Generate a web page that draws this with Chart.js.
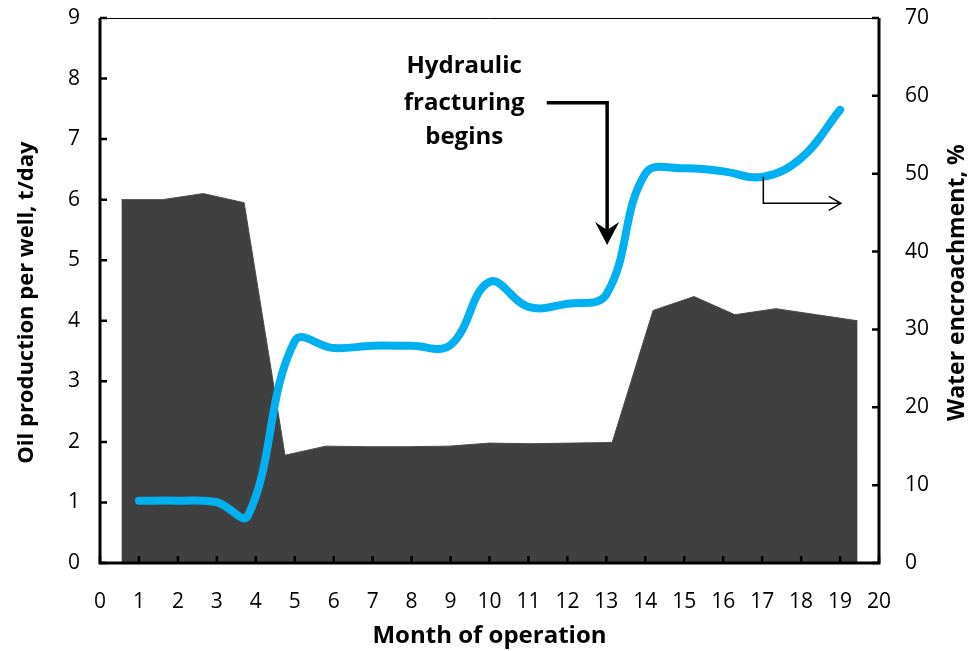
<!DOCTYPE html>
<html>
<head>
<meta charset="utf-8">
<script src="https://cdn.jsdelivr.net/npm/chart.js@4/dist/chart.umd.min.js"></script>
<style>
    html, body { margin: 0; padding: 0; background: #fff; }
</style>
</head>
<body>
<canvas id="chart" width="971" height="651"></canvas>
<script>
// oil production per well, t/day (dark area, left axis)
var oilMonths = [0.55, 1.6, 2.65, 3.7, 4.75, 5.8, 6.85, 7.9, 8.95, 10.0, 11.05, 12.1, 13.15, 14.2, 15.25, 16.3, 17.35, 18.4, 19.45];
var oilRate = [6.0, 6.0, 6.1, 5.95, 1.78, 1.93, 1.92, 1.92, 1.93, 1.98, 1.97, 1.98, 1.99, 4.17, 4.4, 4.1, 4.2, 4.1, 4.0];

// water encroachment, % (blue line, right axis)
var waterMonths = [1, 2, 3, 3.8, 5, 6, 7, 8, 9, 10, 11, 12, 13, 14, 15, 16, 17, 18, 19];
var waterCut = [8.0, 8.0, 7.8, 6.1, 28.5, 27.6, 27.9, 27.9, 28.0, 36.1, 32.9, 33.3, 34.5, 50.0, 50.7, 50.3, 49.6, 52.0, 58.2];

var monthTicks = [0, 20, 1];   // min, max, step
var oilTicks = [0, 9, 1];
var waterTicks = [0, 70, 10];

var FONT = "'Open Sans', sans-serif";

function toPoints(xs, ys) {
    return xs.map(function (x, i) { return { x: x, y: ys[i] }; });
}

function vText(c, text, x, y) {
    c.save();
    c.translate(x, y);
    c.rotate(-Math.PI / 2);
    c.fillText(text, 0, 0);
    c.restore();
}

// axis lines with inward tick marks, side titles, and the callout arrows
var frame = {
    id: 'frame',
    afterDatasetsDraw: function (chart) {
        var c = chart.ctx, a = chart.chartArea, s = chart.scales;
        c.save();
        c.strokeStyle = '#000';
        c.fillStyle = '#000';
        c.lineCap = 'butt';

        // thin top border
        c.lineWidth = 1;
        c.beginPath(); c.moveTo(a.left, a.top + 0.5); c.lineTo(a.right, a.top + 0.5); c.stroke();

        c.lineWidth = 3;
        c.beginPath();
        c.moveTo(a.left, a.top); c.lineTo(a.left, a.bottom);
        c.lineTo(a.right, a.bottom); c.lineTo(a.right, a.top);
        c.stroke();

        c.lineWidth = 2.5;
        c.beginPath();
        s.y.ticks.forEach(function (t) {
            var p = s.y.getPixelForValue(t.value);
            c.moveTo(a.left, p); c.lineTo(a.left + 7, p);
        });
        s.y1.ticks.forEach(function (t) {
            var p = s.y1.getPixelForValue(t.value);
            c.moveTo(a.right, p); c.lineTo(a.right - 7, p);
        });
        s.x.ticks.forEach(function (t) {
            var p = s.x.getPixelForValue(t.value);
            c.moveTo(p, a.bottom); c.lineTo(p, a.bottom - 7);
        });
        c.stroke();

        c.textAlign = 'center';
        c.textBaseline = 'middle';

        // axis titles, both reading bottom to top
        c.font = "bold 22px " + FONT;
        vText(c, 'Oil production per well, t/day', 27, s.y.getPixelForValue(4.3));
        c.font = "bold 23px " + FONT;
        vText(c, 'Water encroachment, %', 957, s.y1.getPixelForValue(36));

        // "Hydraulic fracturing begins"
        c.font = "bold 24px " + FONT;
        var tx = s.x.getPixelForValue(9.35);
        c.fillText('Hydraulic', tx, s.y.getPixelForValue(8.2));
        c.fillText('fracturing', tx, s.y.getPixelForValue(7.59));
        c.fillText('begins', tx, s.y.getPixelForValue(7.03));

        // elbow arrow pointing down at the start of fracturing
        var x0 = s.x.getPixelForValue(11.47), x1 = s.x.getPixelForValue(13.02);
        var yTop = s.y.getPixelForValue(7.6), yTip = s.y.getPixelForValue(5.25);
        c.lineWidth = 3.5;
        c.beginPath();
        c.moveTo(x0, yTop); c.lineTo(x1, yTop); c.lineTo(x1, yTip - 12);
        c.stroke();
        c.beginPath();
        c.moveTo(x1, yTip);
        c.lineTo(x1 - 12, yTip - 23);
        c.lineTo(x1, yTip - 15);
        c.lineTo(x1 + 12, yTip - 23);
        c.closePath();
        c.fill();

        // small arrow: the line belongs to the right axis
        var bx = s.x.getPixelForValue(17.03), ex = s.x.getPixelForValue(19.02);
        var by0 = s.y1.getPixelForValue(49.6), by1 = s.y1.getPixelForValue(46.2);
        c.lineWidth = 1.5;
        c.beginPath();
        c.moveTo(bx, by0); c.lineTo(bx, by1); c.lineTo(ex, by1);
        c.moveTo(ex - 12, by1 - 7); c.lineTo(ex, by1); c.lineTo(ex - 12, by1 + 7);
        c.stroke();

        c.restore();
    }
};

var tickFont = { family: FONT, size: 21 };

var ctx = document.getElementById('chart').getContext('2d');

new Chart(ctx, {
    type: 'line',
    data: {
        datasets: [{
            label: 'Water encroachment, %',
            data: toPoints(waterMonths, waterCut),
            yAxisID: 'y1',
            borderColor: '#00b0f0',
            borderWidth: 8,
            borderCapStyle: 'round',
            tension: 0.4,
            pointRadius: 0,
            fill: false,
            order: 0
        },
        {
            label: 'Oil production per well, t/day',
            data: toPoints(oilMonths, oilRate),
            yAxisID: 'y',
            borderColor: '#4a4a4a',
            borderWidth: 1,
            backgroundColor: '#404040',
            tension: 0,
            pointRadius: 0,
            fill: 'origin',
            order: 1
        }]
    },
    options: {
        responsive: false,
        animation: false,
        layout: { padding: { top: 18 } },
        plugins: {
            legend: { display: false },
            tooltip: { enabled: false }
        },
        scales: {
            x: {
                type: 'linear',
                min: monthTicks[0], max: monthTicks[1],
                ticks: { stepSize: monthTicks[2], padding: 26, color: '#000', font: tickFont, maxRotation: 0 },
                grid: { display: false, drawTicks: false },
                border: { display: false },
                title: { display: true, text: 'Month of operation', color: '#000', font: { family: FONT, size: 24, weight: 'bold' }, padding: { top: 2, bottom: 0 } },
                afterFit: function (s) { s.height = 88; s.paddingLeft = 0; s.paddingRight = 0; }
            },
            y: {
                position: 'left',
                min: oilTicks[0], max: oilTicks[1],
                ticks: { stepSize: oilTicks[2], padding: 20, color: '#000', font: tickFont },
                grid: { display: false, drawTicks: false },
                border: { display: false },
                afterFit: function (s) { s.width = 100; s.paddingTop = 0; s.paddingBottom = 0; }
            },
            y1: {
                position: 'right',
                min: waterTicks[0], max: waterTicks[1],
                ticks: { stepSize: waterTicks[2], padding: 26, color: '#000', font: tickFont },
                grid: { display: false, drawTicks: false },
                border: { display: false },
                afterFit: function (s) { s.width = 92; s.paddingTop = 0; s.paddingBottom = 0; }
            }
        }
    },
    plugins: [frame]
});
</script>
</body>
</html>
